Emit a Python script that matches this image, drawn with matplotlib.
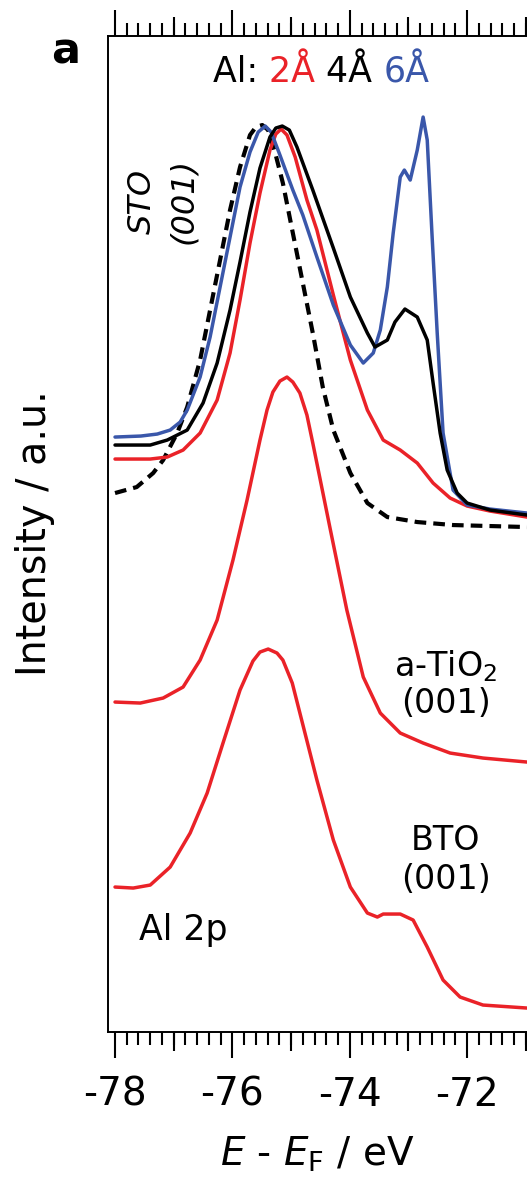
import matplotlib
matplotlib.use('Agg')
import matplotlib.pyplot as plt
from matplotlib.ticker import MultipleLocator, FixedLocator, NullLocator

plt.rcParams['font.family'] = ['DejaVu Sans']
plt.rcParams['axes.unicode_minus'] = False

RED = '#ea2228'
BLUE = '#3a57aa'
BLACK = '#000000'

# Al 2p spectra, energy in eV, intensity in a.u. (curves offset vertically)
sto_x = [-78.00, -77.63, -77.35, -77.18, -76.94, -76.77, -76.55, -76.38, -76.21, -76.04,
         -75.87, -75.70, -75.60, -75.49, -75.39, -75.27, -75.14, -74.97, -74.80, -74.63,
         -74.46, -74.28, -73.99, -73.70, -73.36, -72.85, -72.24, -70.98]
sto_y = [5.39, 5.45, 5.59, 5.72, 5.99, 6.25, 6.72, 7.22, 7.72, 8.22,
         8.65, 8.97, 9.05, 9.07, 9.02, 8.79, 8.49, 7.99, 7.49, 6.99,
         6.45, 6.02, 5.59, 5.29, 5.15, 5.10, 5.07, 5.05]

al6_x = [-78.00, -77.56, -77.28, -77.06, -76.89, -76.77, -76.55, -76.38, -76.21, -76.04,
         -75.87, -75.70, -75.56, -75.44, -75.34, -75.19, -74.97, -74.80, -74.56, -74.28,
         -73.99, -73.77, -73.60, -73.48, -73.36, -73.26, -73.14, -73.07, -72.97, -72.85,
         -72.75, -72.68, -72.60, -72.51, -72.41, -72.24, -72.00, -71.61, -70.98]
al6_y = [5.95, 5.96, 5.98, 6.02, 6.10, 6.22, 6.55, 6.95, 7.45, 7.95,
         8.45, 8.80, 9.00, 9.06, 9.00, 8.77, 8.42, 8.17, 7.75, 7.27,
         6.87, 6.69, 6.79, 7.02, 7.45, 7.99, 8.55, 8.62, 8.52, 8.82,
         9.15, 8.92, 7.99, 6.99, 5.99, 5.42, 5.27, 5.23, 5.19]

al4_x = [-78.00, -77.40, -77.11, -76.77, -76.50, -76.26, -76.04, -75.87, -75.70, -75.53,
         -75.36, -75.26, -75.15, -75.03, -74.90, -74.63, -74.28, -73.99, -73.70, -73.57,
         -73.36, -73.23, -73.06, -72.85, -72.68, -72.58, -72.46, -72.34, -72.17, -72.00,
         -71.61, -70.98]
al4_y = [5.87, 5.87, 5.92, 6.02, 6.29, 6.69, 7.22, 7.70, 8.20, 8.64,
         8.95, 9.04, 9.06, 9.02, 8.85, 8.42, 7.84, 7.35, 6.99, 6.85,
         6.92, 7.10, 7.23, 7.15, 6.92, 6.49, 5.99, 5.62, 5.39, 5.29,
         5.22, 5.17]

al2_x = [-78.00, -77.40, -77.11, -76.84, -76.55, -76.26, -76.04, -75.87, -75.70, -75.53,
         -75.36, -75.26, -75.17, -75.07, -74.93, -74.73, -74.56, -74.28, -73.99, -73.70,
         -73.43, -73.14, -72.85, -72.58, -72.29, -72.00, -71.61, -70.98]
al2_y = [5.73, 5.73, 5.75, 5.82, 5.99, 6.32, 6.79, 7.32, 7.89, 8.39,
         8.82, 8.98, 9.03, 8.97, 8.75, 8.32, 8.02, 7.37, 6.72, 6.22,
         5.92, 5.82, 5.69, 5.49, 5.34, 5.26, 5.21, 5.15]

tio2_x = [-78.00, -77.57, -77.18, -76.84, -76.55, -76.26, -75.99, -75.75, -75.53, -75.41,
          -75.31, -75.19, -75.07, -74.97, -74.85, -74.73, -74.63, -74.34, -74.05, -73.77,
          -73.48, -73.14, -72.75, -72.29, -71.73, -70.98]
tio2_y = [3.30, 3.29, 3.34, 3.45, 3.72, 4.12, 4.72, 5.32, 5.92, 6.22,
          6.40, 6.51, 6.55, 6.50, 6.39, 6.17, 5.89, 5.05, 4.22, 3.55,
          3.19, 2.99, 2.89, 2.79, 2.74, 2.70]

bto_x = [-78.00, -77.69, -77.40, -77.06, -76.72, -76.43, -76.16, -75.87, -75.65, -75.53,
         -75.39, -75.24, -75.14, -74.98, -74.85, -74.56, -74.28, -73.99, -73.70, -73.53,
         -73.43, -73.14, -72.92, -72.68, -72.41, -72.12, -71.73, -70.98]
bto_y = [1.45, 1.44, 1.47, 1.65, 1.99, 2.39, 2.89, 3.42, 3.71, 3.80,
         3.83, 3.79, 3.72, 3.49, 3.19, 2.52, 1.92, 1.45, 1.19, 1.15,
         1.18, 1.18, 1.12, 0.85, 0.52, 0.35, 0.27, 0.24]

even_ticks = [-78, -76, -74, -72]
odd_ticks = [-77, -75, -73, -71]
tick_labels = ['-78', '-76', '-74', '-72']


def main():
    fig = plt.figure(figsize=(5.27, 11.78), dpi=100)
    ax = fig.add_axes([0.2049, 0.1239, 0.7951, 0.8455])

    line_kw = dict(lw=2.5, solid_joinstyle='round', solid_capstyle='round')
    ax.plot(sto_x, sto_y, color=BLACK, lw=3.0, ls=(0, (2.8, 1.7)), zorder=2)
    ax.plot(al2_x, al2_y, color=RED, zorder=3, **line_kw)
    ax.plot(al6_x, al6_y, color=BLUE, zorder=3, **line_kw)
    ax.plot(al4_x, al4_y, color=BLACK, zorder=4, **line_kw)
    ax.plot(tio2_x, tio2_y, color=RED, **line_kw)
    ax.plot(bto_x, bto_y, color=RED, **line_kw)

    ax.set_xlim(-78.12, -70.98)
    ax.set_ylim(0, 9.96)

    # axes styling
    for side in ['left', 'top', 'bottom']:
        ax.spines[side].set_linewidth(1.4)
    ax.spines['right'].set_visible(False)
    ax.set_yticks([])
    ax.set_xticks(even_ticks)
    ax.set_xticklabels(tick_labels)
    ax.xaxis.set_minor_locator(MultipleLocator(0.2))
    ax.tick_params(axis='x', which='both', top=True, bottom=True, direction='out', width=1.5)
    ax.tick_params(axis='x', which='major', length=19, labelsize=28, pad=12.5)
    ax.tick_params(axis='x', which='minor', length=9.5)

    # medium ticks at odd integers, top and bottom
    for loc in ['bottom', 'top']:
        sec = ax.secondary_xaxis(loc)
        sec.xaxis.set_major_locator(FixedLocator(odd_ticks))
        sec.xaxis.set_minor_locator(NullLocator())
        sec.tick_params(axis='x', which='major', direction='out', length=14, width=1.5,
                        labelbottom=False, labeltop=False)
        sec.spines[loc].set_visible(False)

    ax.set_xlabel(r'$E$ - $E_\mathrm{F}$ / eV', fontsize=28, labelpad=15)
    fig.text(35 / 527, 1 - 533 / 1178, 'Intensity / a.u.', rotation=90,
             ha='center', va='center', fontsize=28.5)

    # annotations
    fig.text(66 / 527, 1 - 52 / 1178, 'a', fontsize=31, fontweight='bold',
             ha='center', va='center')
    y_top = 1 - 72 / 1178
    parts = [('Al: ', BLACK), ('2Å ', RED), ('4Å ', BLACK), ('6Å', BLUE)]
    x0 = 213 / 527
    renderer = fig.canvas.get_renderer()
    for s, c in parts:
        t = fig.text(x0, y_top, s, color=c, fontsize=25, ha='left', va='center')
        w = t.get_window_extent(renderer).width
        x0 += w / fig.bbox.width

    fig.text(163 / 527, 1 - 201 / 1178, 'STO\n(001)', rotation=90, style='italic',
             fontsize=23, ha='center', va='center', multialignment='center', linespacing=1.45)
    fig.text(446 / 527, 1 - 684 / 1178, 'a-TiO$_2$\n(001)', fontsize=24,
             ha='center', va='center', multialignment='center', linespacing=1.1)
    fig.text(446 / 527, 1 - 860 / 1178, 'BTO\n(001)', fontsize=24,
             ha='center', va='center', multialignment='center', linespacing=1.25)
    fig.text(183 / 527, 1 - 930 / 1178, 'Al 2p', fontsize=25, ha='center', va='center')

    fig.savefig('out.png', dpi=100)


if __name__ == "__main__":
    main()
